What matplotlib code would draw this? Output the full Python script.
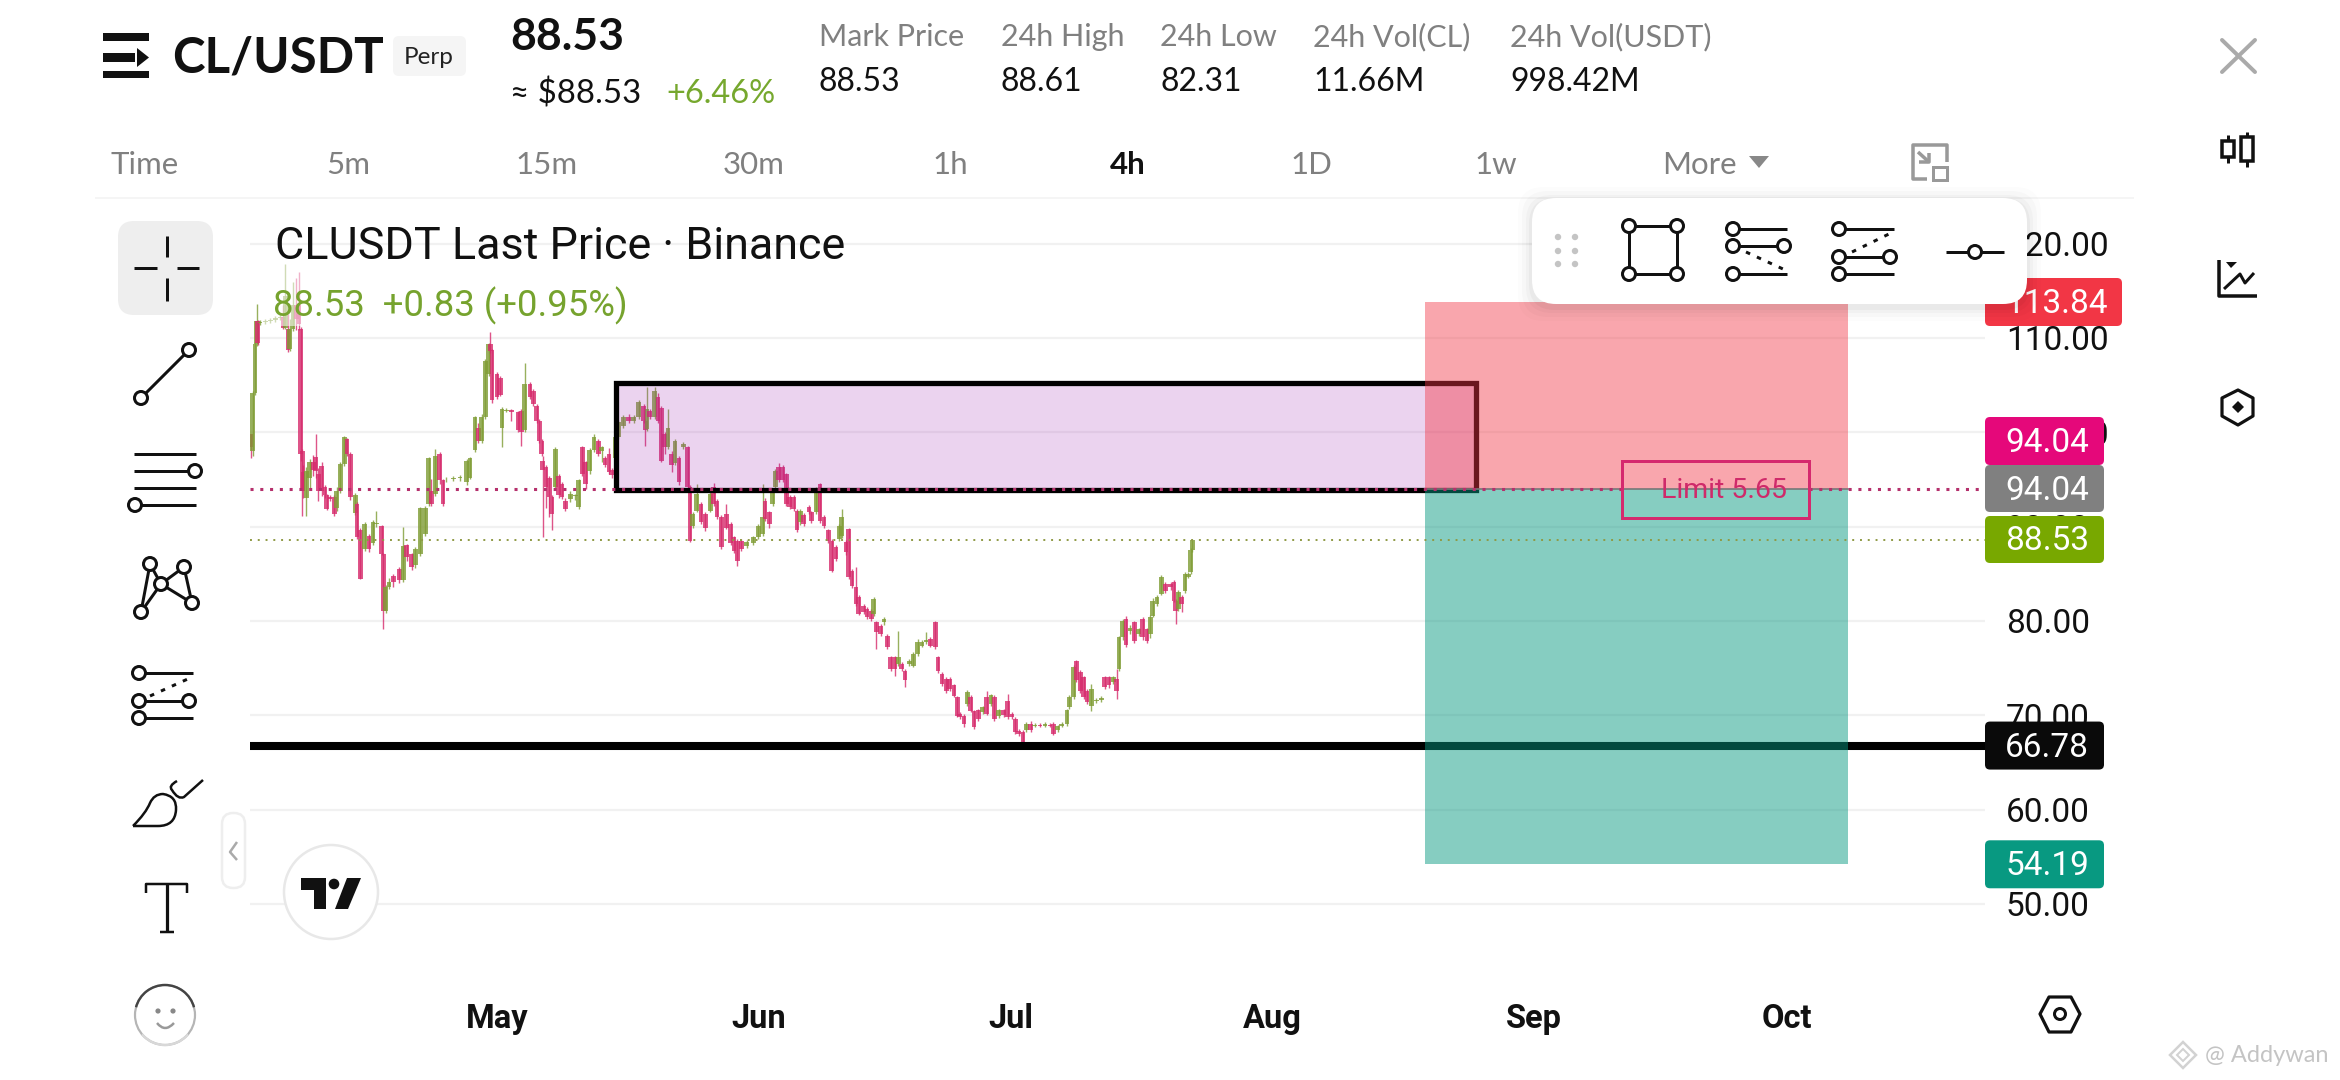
import matplotlib
matplotlib.use("Agg")
import matplotlib.pyplot as plt
from matplotlib.patches import FancyBboxPatch, Rectangle, Circle, Polygon, PathPatch, Arc
from matplotlib.path import Path

# ---------- data (days counted from 1 May) ----------
bar_days = [
 -29.2,-29.0,-28.7,-28.5,-28.4,-28.1,-27.5,-26.9,-26.3,-25.7,
 -25.4,-25.1,-24.8,-24.6,-24.2,-23.8,-23.5,-23.3,-23.1,-23.0,
 -22.6,-22.2,-21.8,-21.5,-21.2,-20.8,-20.4,-20.2,-19.8,-19.3,
 -19.0,-18.6,-18.1,-17.8,-17.4,-16.8,-16.6,-16.2,-15.7,-15.2,
 -14.7,-14.3,-13.7,-13.5,-13.2,-12.8,-12.3,-11.6,-11.1,-10.7,
 -10.1,-9.7,-9.1,-8.5,-8.1,-7.8,-7.3,-6.8,-6.4,-6.0,
 -5.2,-4.4,-3.6,-3.2,-2.6,-2.2,-1.8,-1.4,-1.0,-0.8,
 -0.6,0.0,0.4,0.6,1.1,1.7,2.5,2.9,3.3,3.9,
 4.3,4.7,5.0,5.3,5.4,5.8,6.2,6.5,6.9,7.3,
 7.7,8.1,8.7,9.3,9.7,10.1,10.5,11.0,11.5,12.0,
 12.4,12.8,13.3,13.6,14.0,14.4,15.0,15.6,16.2,16.8,
 17.4,17.6,17.8,18.1,18.7,19.1,19.5,19.9,20.3,20.7,
 21.1,21.6,22.1,22.6,22.9,23.2,23.7,24.2,24.7,25.3,
 25.7,26.1,26.6,27.2,27.7,28.1,28.5,29.0,29.6,30.4,
 31.0,31.5,31.8,32.3,32.7,33.0,33.4,33.9,34.3,34.7,
 35.2,35.6,36.0,36.4,37.0,37.3,37.9,38.3,38.8,39.3,
 39.7,40.2,40.6,40.9,41.4,41.7,42.1,42.6,42.9,43.5,
 43.9,44.4,44.7,45.0,45.5,45.9,46.3,46.7,47.2,47.6,
 48.0,48.4,48.9,49.4,49.9,50.4,50.9,51.4,52.0,52.3,
 52.8,53.3,53.7,54.2,54.6,54.9,55.4,55.8,56.2,56.6,
 57.1,57.6,58.1,58.6,59.0,59.5,60.1,60.6,61.1,61.5,
 61.9,62.4,62.8,63.3,63.8,64.4,65.0,65.6,66.0,66.5,
 67.0,67.6,67.9,68.4,68.7,69.2,69.6,70.0,70.5,71.1,
 71.7,72.1,72.6,73.1,73.5,73.8,74.2,74.6,75.1,75.6,
 76.1,76.6,77.1,77.5,77.8,78.3,78.8,79.3,79.9,80.3,
 80.5,80.8,81.2,81.6,82.0,82.3,82.5]
opens = [
 99.8,98.0,104.2,109.4,111.8,111.6,111.7,111.8,111.9,112.1,
 112.2,111.1,111.0,108.8,111.0,113.5,113.5,111.0,98.0,95.8,
 93.0,95.2,96.9,97.4,95.6,96.4,94.2,93.3,93.1,93.1,
 92.0,93.8,96.6,99.3,97.7,91.4,92.4,89.6,87.6,89.0,
 88.3,90.3,90.1,87.1,81.1,83.6,84.8,85.5,84.3,88.0,
 87.1,85.9,87.1,89.2,92.4,93.8,93.5,97.7,94.9,95.0,
 95.1,95.2,94.7,95.2,98.1,100.5,99.1,101.6,106.2,109.4,
 108.7,106.2,105.8,100.5,102.3,102.4,102.1,102.3,100.2,105.1,
 104.4,102.8,101.2,99.1,97.0,96.3,95.2,93.1,94.2,95.4,
 94.5,92.75,92.9,93.2,92.05,98.4,96.8,95.9,98.1,99.1,
 98.0,97.3,97.7,96.0,97.3,99.5,100.7,101.6,101.2,101.6,
 102.8,101.2,100.3,102.3,101.6,103.7,102.6,99.8,98.4,97.7,
 96.7,97.3,98.4,98.4,94.2,90.1,91.7,92.4,91.3,91.7,
 94.2,92.75,91.0,91.3,90.3,88.9,88.5,88.5,87.9,88.3,
 88.9,89.22,92.76,91.52,92.4,94.17,96.3,96.3,95.6,93.1,
 93.1,91.7,90.46,91.2,92.05,91.5,91.52,94.5,91.0,89.6,
 88.5,87.8,88.7,89.0,88.34,89.75,85.3,83.57,82.5,81.6,
 81.3,81.1,80.74,79.86,79.5,79.86,78.45,76.15,76.15,75.4,
 75.4,74.7,75.44,75.27,76.5,77.39,77.74,78.09,79.86,76.15,
 74.4,73.85,73.85,73.15,71.9,70.14,69.96,71.2,71.91,70.49,
 70.5,70.3,71.9,71.2,71.9,69.9,70.5,71.55,70.1,69.6,
 68.37,68.2,68.4,69.1,68.9,69.0,68.85,69.0,69.1,68.4,
 68.9,69.08,70.85,71.9,75.8,74.56,74.0,72.6,71.0,71.5,
 71.6,74.0,74.0,73.5,73.85,74.9,78.27,80.2,78.9,79.86,
 78.6,80.2,79.1,78.6,80.57,81.8,82.9,83.92,83.92,84.1,
 82.16,81.27,82.5,83.2,84.7,85.2,87.5]
closes = [
 98.4,104.2,109.4,111.8,109.5,111.7,111.8,111.9,112.1,112.2,
 111.1,114.5,108.7,111.0,113.5,112.0,111.5,97.7,93.8,93.8,
 95.9,96.9,96.0,95.9,93.8,93.8,93.3,91.9,92.9,91.3,
 93.8,96.6,99.5,97.7,93.1,93.4,88.9,84.45,90.3,87.6,
 90.5,90.35,87.1,81.1,83.6,84.1,84.1,84.3,87.9,86.75,
 85.7,87.6,92.0,92.0,97.3,92.4,97.5,94.9,92.4,95.1,
 95.2,95.3,97.0,97.3,101.6,99.1,101.6,107.6,109.4,108.6,
 103.4,103.7,104.0,102.5,102.4,102.2,100.2,100.0,105.1,103.7,
 103.0,101.2,99.1,97.7,96.0,94.2,93.1,91.3,98.2,93.3,
 93.1,91.9,93.5,93.3,94.9,95.6,94.5,98.1,99.5,97.7,
 98.4,96.5,95.8,95.5,99.5,101.1,101.6,101.2,101.6,103.2,
 101.2,100.2,102.5,101.6,104.4,101.2,97.0,98.4,100.5,96.5,
 99.1,94.7,98.8,94.2,88.5,91.3,93.5,90.5,89.9,93.5,
 92.4,91.0,87.8,89.9,88.3,87.45,86.4,87.6,88.4,88.9,
 90.1,91.0,90.82,90.29,93.8,95.94,94.9,94.9,92.4,92.05,
 91.88,89.6,91.7,90.3,91.5,90.64,94.0,90.64,90.1,88.5,
 85.34,86.6,90.1,91.0,87.28,84.63,83.75,81.8,80.74,80.9,
 80.4,80.2,82.33,78.8,78.6,80.2,77.2,74.9,74.9,76.15,
 74.9,73.7,75.8,76.5,77.74,77.74,78.0,77.39,77.2,74.74,
 73.3,72.6,72.8,72.08,69.96,69.79,69.08,72.44,70.49,68.73,
 69.6,70.85,70.14,72.1,69.6,70.5,70.0,69.8,69.8,68.2,
 68.0,67.2,69.1,68.4,69.0,68.85,69.1,68.9,68.05,68.9,
 69.1,70.5,71.9,75.1,73.7,72.6,71.9,71.4,72.8,71.6,
 71.8,73.0,73.15,74.0,72.6,78.27,80.0,77.4,79.3,77.9,
 79.1,78.27,77.92,80.39,82.16,82.5,84.63,83.2,83.57,82.16,
 81.1,83.04,81.8,85.0,85.0,87.5,88.53]
highs = [
 99.8,104.4,109.6,113.6,111.9,111.9,112.0,112.1,112.3,112.5,
 113.5,117.85,112.5,112.0,115.9,116.4,116.96,111.2,98.2,96.5,
 96.3,97.2,97.6,99.82,96.2,96.9,94.4,93.5,93.3,93.3,
 94.2,96.9,99.65,99.4,97.9,93.6,92.6,89.8,90.5,89.2,
 90.7,91.7,90.2,87.2,83.8,84.6,85.0,85.7,90.0,88.2,
 87.2,87.8,92.1,92.2,97.35,95.0,98.23,97.9,95.1,95.3,
 95.4,95.5,97.2,97.4,101.7,101.0,101.9,107.8,109.5,110.6,
 108.8,106.4,106.0,102.7,102.6,102.5,102.3,102.5,107.4,105.3,
 104.6,103.0,101.4,99.3,97.5,96.5,95.4,93.3,98.4,95.6,
 94.7,93.0,93.8,93.5,95.1,98.6,97.0,98.3,99.8,99.3,
 98.6,97.5,98.3,96.2,99.7,101.3,101.8,101.9,101.8,103.4,
 103.0,101.4,104.77,102.5,104.8,104.2,102.8,100.0,102.5,98.0,
 99.3,97.5,99.0,98.6,94.4,91.5,94.5,92.6,91.5,93.7,
 94.6,92.9,91.2,92.4,90.5,89.0,88.7,88.7,88.6,89.0,
 90.3,94.5,93.0,91.7,94.0,96.1,96.72,96.5,95.7,93.3,
 93.3,91.9,91.9,91.4,92.3,91.7,94.2,94.6,91.2,89.7,
 88.7,88.0,90.3,91.88,88.6,89.9,85.5,85.69,82.7,81.8,
 81.5,81.3,82.5,80.0,79.7,80.4,78.6,76.3,76.3,78.98,
 75.6,74.9,76.0,76.7,78.1,78.0,78.8,78.3,80.0,76.3,
 74.6,74.0,74.0,73.3,72.0,70.3,70.1,72.7,72.1,70.6,
 70.7,71.0,72.6,72.3,72.1,70.7,70.7,72.2,70.3,69.8,
 68.5,68.4,69.3,69.4,69.2,69.2,69.3,69.2,69.3,69.0,
 69.3,70.7,72.1,75.3,75.9,74.8,74.2,72.8,73.3,71.8,
 72.0,74.2,74.2,74.2,74.91,78.4,80.2,80.5,79.6,80.0,
 79.3,80.4,79.3,80.6,82.4,82.7,84.9,84.1,84.1,84.3,
 82.3,83.3,82.7,85.2,85.2,87.7,88.6]
lows = [
 97.3,97.5,104.0,109.2,109.3,111.4,111.5,111.6,111.7,111.9,
 111.0,111.0,108.48,108.6,110.7,110.8,110.8,97.0,91.17,93.0,
 91.17,94.0,95.4,95.2,92.7,93.2,93.0,91.8,92.7,91.1,
 91.7,93.6,96.4,97.5,92.8,91.2,88.7,84.45,87.4,87.3,
 88.1,90.0,87.0,79.15,80.8,83.4,83.6,84.0,84.1,86.3,
 85.4,85.6,86.9,89.0,92.2,92.2,93.2,94.5,92.2,94.7,
 94.8,94.8,94.4,95.0,97.9,98.9,98.9,101.4,106.0,108.4,
 103.1,103.5,103.8,98.4,102.1,101.2,100.0,98.6,100.0,103.5,
 102.8,101.0,98.9,97.5,88.9,92.0,91.0,89.6,93.9,93.0,
 92.9,91.7,92.6,92.8,91.9,95.4,94.0,95.6,97.9,97.5,
 96.9,96.3,95.6,95.2,97.0,99.3,100.5,101.0,101.0,101.4,
 101.0,98.6,100.1,101.4,101.4,101.0,96.8,97.7,98.2,95.76,
 96.5,94.4,98.2,94.0,88.34,89.9,91.5,90.3,89.5,91.5,
 92.2,90.8,87.6,89.7,88.1,87.2,85.8,87.4,87.7,88.1,
 88.7,89.0,90.6,89.9,92.2,94.0,94.7,94.7,92.2,91.9,
 91.7,89.4,90.2,90.1,91.3,90.4,91.3,90.4,89.8,88.3,
 85.2,86.4,88.5,88.8,87.0,84.4,83.5,81.6,80.6,80.7,
 80.2,80.0,80.5,77.03,78.4,79.6,77.0,74.7,74.2,75.2,
 74.7,72.97,75.2,75.1,76.3,77.2,77.5,77.2,77.0,74.5,
 73.1,72.4,72.6,71.9,69.8,69.6,68.7,71.0,70.3,68.5,
 69.4,70.1,70.0,71.0,69.4,69.7,69.8,69.6,69.6,68.0,
 67.8,67.1,68.2,68.2,68.7,68.7,68.7,68.7,67.9,68.2,
 68.7,68.9,70.7,71.7,73.5,72.4,71.7,71.2,70.4,71.3,
 71.4,72.8,72.9,73.3,71.7,74.7,78.0,77.2,78.6,77.7,
 78.4,78.0,77.7,78.2,80.4,81.6,82.7,83.0,83.3,82.0,
 79.68,81.0,80.9,83.0,84.5,85.0,87.3]

y_ticks = [50, 60, 70, 80, 90, 100, 110, 120]
month_days = [0, 31, 61, 92, 123, 153]
month_labels = ["May", "Jun", "Jul", "Aug", "Sep", "Oct"]
entry_price, target_price, stop_price = 94.04, 54.19, 113.84
last_price = 88.53
support_price = 66.78
zone_top, zone_bottom = 105.18, 93.9
zone_start, zone_end = 14.06, 116.1
position_start, position_end = 110.1, 160.3
limit_start, limit_end = 133.5, 155.6

ROBOTO = "Roboto"
LATO = "Lato"
GREEN = "#7f9c34"
PINK = "#d62a6c"

fig = plt.figure(figsize=(23.4, 10.8), dpi=100, facecolor="white")
L, R, T, B = 250, 1985, 200, 975
ax = fig.add_axes([L / 2340, (1080 - B) / 1080, (R - L) / 2340, (B - T) / 1080])
ax.set_facecolor("none")
ax.set_xlim((L - 497) / 8.43, (R - 497) / 8.43)
ax.set_ylim(110 - (B - 338) / 9.43, 110 - (T - 338) / 9.43)
for s in ax.spines.values():
    s.set_visible(False)
ax.set_yticks(y_ticks)
ax.set_yticklabels([f"{v:.2f}" for v in y_ticks], family=ROBOTO, fontsize=24, color="#111111",
                   ha="left", va="center_baseline")
ax.yaxis.tick_right()
ax.tick_params(axis="y", length=0, pad=15)
ax.set_xticks(month_days)
ax.set_xticklabels(month_labels, family=ROBOTO, fontsize=23.5, fontweight="bold", color="#111111")
ax.tick_params(axis="x", length=0, pad=20)
ax.grid(axis="y", color="#f1f1f1", lw=1.6, zorder=1)
ax.set_axisbelow(True)

# candles
for d, o, c, h, l in zip(bar_days, opens, closes, highs, lows):
    col = GREEN if c >= o else PINK
    ax.vlines(d, l, h, color=col, lw=1.0, alpha=0.8, zorder=3)
    ax.bar(d, abs(c - o), bottom=min(o, c), width=0.56, color=col, alpha=0.8, lw=0, zorder=3)

# zone
ax.add_patch(Rectangle((zone_start, zone_bottom), zone_end - zone_start, zone_top - zone_bottom,
                       facecolor="#9c27b0", alpha=0.2, lw=0, zorder=4))
ax.add_patch(Rectangle((zone_start, zone_bottom), zone_end - zone_start, zone_top - zone_bottom,
                       fill=False, edgecolor="black", lw=3.8, zorder=4.1, joinstyle="miter"))
ax.axhline(support_price, color="black", lw=5.8, zorder=4.2)
# position
ax.add_patch(Rectangle((position_start, entry_price), position_end - position_start, stop_price - entry_price,
                       facecolor="#f23645", alpha=0.44, lw=0, zorder=5))
ax.add_patch(Rectangle((position_start, target_price), position_end - position_start, entry_price - target_price,
                       facecolor="#089981", alpha=0.49, lw=0, zorder=5))
ax.plot([position_start, position_end], [entry_price, entry_price], color="#777777", lw=1.2, zorder=5.1)
# price lines (the entry line stops at the limit tag)
x_lo, x_hi = ax.get_xlim()
ax.plot([x_lo, limit_start], [entry_price, entry_price], color="#b5306c", lw=2.2, ls=(0, (1, 2.2)), zorder=6)
ax.plot([limit_end, x_hi], [entry_price, entry_price], color="#b5306c", lw=2.2, ls=(0, (1, 2.2)), zorder=6)
ax.axhline(last_price, color="#8f9a45", lw=1.4, ls=(0, (1, 3)), zorder=6)

# ---------- interface layer, in screen pixels ----------
ui = fig.add_axes([0, 0, 1, 1], zorder=10)
ui.set_xlim(0, 2340)
ui.set_ylim(1080, 0)
ui.axis("off")
ui.patch.set_alpha(0)


def px(v):
    return v * 0.72


def text(x, y, s, size, color="#111111", family=ROBOTO, weight="normal", ha="left", va="center", z=5):
    return ui.text(x, y, s, fontsize=size, color=color, family=family, fontweight=weight, ha=ha, va=va, zorder=z)


def rbox(x0, y0, x1, y1, r, fc, ec="none", lw=0, alpha=None, z=2):
    p = FancyBboxPatch((x0, y0), x1 - x0, y1 - y0, boxstyle=f"round,pad=0,rounding_size={r}",
                       facecolor=fc, edgecolor=ec, lw=lw, alpha=alpha, zorder=z)
    ui.add_patch(p)
    return p


def line(xs, ys, w=3, color="#111111", z=6, ls="-", cap="butt"):
    ui.plot(xs, ys, color=color, lw=px(w), ls=ls, zorder=z, solid_capstyle=cap, dash_capstyle=cap)


def node(x, y, r=6.5, w=3, color="#111111", z=7):
    ui.add_patch(Circle((x, y), r, facecolor="white", edgecolor=color, lw=px(w), zorder=z))


def price_y(p):
    return 338 + (110 - p) * 9.43


# legend wash over the candles
ui.add_patch(Rectangle((262, 262), 368, 64, facecolor="white", alpha=0.55, lw=0, zorder=1))
text(275, 247, "CLUSDT Last Price · Binance", 32.3)
text(273, 306, "88.53  +0.83 (+0.95%)", 26.3, color="#76a32e")

# header
for y0, y1, x1 in [(33, 41, 149), (53, 62, 135), (71, 78, 149)]:
    ui.add_patch(Rectangle((103, y0), x1 - 103, y1 - y0, fc="#111111", lw=0))
ui.add_patch(Polygon([(137, 48), (149, 57.5), (137, 67)], fc="#111111", lw=0))
text(172, 58, "CL/USDT", 35.5, family=LATO, weight="bold")
rbox(393, 36, 466, 76, 6, "#f5f5f5")
text(429, 58, "Perp", 17.5, family=LATO, ha="center", color="#222222")
text(510, 37, "88.53", 32, family=LATO, weight="bold")
text(510, 94, "≈ $88.53", 23.8, family=LATO, color="#111111")
text(666, 94, "+6.46%", 23.5, family=LATO, color="#76a82e")
stats = [(819, "Mark Price", "88.53"), (1001, "24h High", "88.61"), (1160, "24h Low", "82.31"),
         (1313, "24h Vol(CL)", "11.66M"), (1510, "24h Vol(USDT)", "998.42M")]
for x, head, val in stats:
    text(x, 37, head, 22, family=LATO, color="#808080")
    text(x, 82, val, 23, family=LATO, color="#111111")

# interval row
intervals = [(145, "Time"), (348, "5m"), (547, "15m"), (754, "30m"), (950, "1h"),
             (1128, "4h"), (1311, "1D"), (1496, "1w"), (1699, "More")]
for x, s in intervals:
    text(x, 165, s, 22.5, family=LATO, ha="center", color="#111111" if s == "4h" else "#808080",
         weight="bold" if s == "4h" else "normal")
ui.add_patch(Polygon([(1749, 156), (1769, 156), (1759, 168)], fc="#888888", lw=0))
line([1927, 1913, 1913, 1947, 1947], [179, 179, 145, 145, 162], 3.5, "#999999")
ui.add_patch(Rectangle((1933, 167), 14, 13, fc="none", ec="#999999", lw=px(3)))
line([1918, 1929], [152, 162], 3.5, "#999999")
line([1919, 1929, 1929], [162, 162, 153], 3.5, "#999999")
line([95, 2134], [198, 198], 1.5, "#f3f3f3", z=1)

# right column
line([2222, 2255], [40, 72], 4, "#aaaaaa", cap="round")
line([2222, 2255], [72, 40], 4, "#aaaaaa", cap="round")
for cx, y0, y1, w0, w1 in [(2228, 141, 157, 135, 163), (2247, 137, 161, 132, 167)]:
    ui.add_patch(Rectangle((cx - 6, y0), 12, y1 - y0, fc="white", ec="#111111", lw=px(3.5), zorder=6))
    line([cx, cx], [w0, y0], 3)
    line([cx, cx], [y1, w1], 3)
line([2219, 2219, 2257], [260, 296, 296], 3.5)
line([2224, 2240, 2245, 2254], [289, 274, 283, 273], 3)
ui.add_patch(Polygon([(2226, 262), (2237, 262), (2231, 268)], fc="#111111", lw=0))
hexa = [(2238, 390), (2253, 398), (2253, 416), (2238, 425), (2222, 416), (2222, 398)]
ui.add_patch(Polygon(hexa, fc="none", ec="#111111", lw=px(3.2), joinstyle="round"))
ui.add_patch(Polygon([(2238, 401), (2244, 407), (2238, 413), (2232, 407)], fc="#111111", lw=0))
hexb = [(2049, 997), (2071, 997), (2080, 1014), (2071, 1032), (2049, 1032), (2040, 1014)]
ui.add_patch(Polygon(hexb, fc="none", ec="#111111", lw=px(3.2), joinstyle="round"))
ui.add_patch(Circle((2060, 1014), 5.5, fc="none", ec="#111111", lw=px(3)))

# left toolbar
rbox(118, 221, 213, 315, 16, "#eeeeee")
line([134, 157], [268, 268], 3)
line([177, 199], [268, 268], 3)
line([167, 167], [236, 257], 3)
line([167, 167], [278, 301], 3)
line([141, 189], [398, 350], 3)
node(141, 398)
node(189, 350)
for y in (454, 471, 488, 505):
    line([134, 196], [y, y], 3)
node(195, 471)
node(135, 505)
pts = {"a": (141, 612), "b": (150, 564), "c": (161, 584), "d": (184, 567), "e": (192, 603)}
for u, v in ["ab", "ac", "bc", "cd", "ce", "de"]:
    line([pts[u][0], pts[v][0]], [pts[u][1], pts[v][1]], 3)
for p in pts.values():
    node(*p)
for y in (673, 701, 718):
    line([139, 193], [y, y], 3)
line([150, 190], [696, 678], 3, ls=(0, (1.5, 2.5)))
node(139, 673)
node(139, 701)
node(189, 701)
node(139, 718)
blob = Path([(133, 826), (146, 813), (150, 803), (154, 794), (163, 794), (177, 796), (176, 810), (175, 826), (158, 826), (133, 826)],
            [Path.MOVETO, Path.CURVE3, Path.CURVE3, Path.CURVE3, Path.CURVE3, Path.CURVE3, Path.CURVE3, Path.CURVE3, Path.CURVE3, Path.LINETO])
ui.add_patch(PathPatch(blob, fc="none", ec="#111111", lw=px(2.5), zorder=6))
hook = Path([(177, 781), (168, 786), (172, 790), (178, 800), (184, 797), (203, 780)],
            [Path.MOVETO, Path.CURVE3, Path.CURVE3, Path.CURVE3, Path.CURVE3, Path.LINETO])
ui.add_patch(PathPatch(hook, fc="none", ec="#111111", lw=px(2.5), zorder=6))
line([146, 146, 187, 187], [893, 884, 884, 893], 2.5)
line([167, 167], [884, 932], 3.2)
line([160, 174], [932, 932], 2.5)
ui.add_patch(Circle((165, 1015), 30, fc="white", ec="#b5b5b5", lw=px(2.2), zorder=6))
ui.add_patch(Arc((165, 1015), 60, 60, theta1=195, theta2=345, ec="#444444", lw=px(2.4), zorder=6.5))
ui.add_patch(Arc((165, 1015), 60, 60, theta1=40, theta2=140, ec="#d8d8d8", lw=px(2.4), zorder=6.5))
ui.add_patch(Circle((158, 1011), 2.6, fc="#888888", lw=0, zorder=7))
ui.add_patch(Circle((173, 1011), 2.6, fc="#888888", lw=0, zorder=7))
smile = Path([(157, 1023), (165, 1033), (174, 1023)], [Path.MOVETO, Path.CURVE3, Path.CURVE3])
ui.add_patch(PathPatch(smile, fc="none", ec="#999999", lw=px(2.5), zorder=7))
rbox(222, 813, 245, 888, 11, "white", "#eeeeee", px(2.5))
line([237, 230, 237], [842, 852, 860], 2.5, "#aaaaaa")

# TradingView badge
ui.add_patch(Circle((331, 892), 47, fc="white", ec="#e8e8e8", lw=px(2.5), zorder=3))
ui.add_patch(Polygon([(301, 878), (326, 878), (326, 909), (314, 909), (314, 890), (301, 890)], fc="#111111", lw=0, zorder=4))
ui.add_patch(Circle((334, 884), 5.3, fc="#111111", lw=0, zorder=4))
ui.add_patch(Polygon([(347, 878), (361, 878), (348, 909), (335, 909)], fc="#111111", lw=0, zorder=4))

# price badges
badges = [(1985, 2122, 278, 326, "#f23645", f"{stop_price:.2f}", 2056),
          (1985, 2104, 417, 465, "#e5087a", f"{entry_price:.2f}", 2047),
          (1985, 2104, 465, 512, "#808080", f"{entry_price:.2f}", 2047),
          (1985, 2104, 516, 563, "#78a800", f"{last_price:.2f}", 2047),
          (1985, 2104, price_y(support_price) - 24, price_y(support_price) + 24, "#0a0a0a", f"{support_price:.2f}", 2047),
          (1985, 2104, price_y(target_price) - 24, price_y(target_price) + 24, "#089981", f"{target_price:.2f}", 2047)]
for x0, x1, y0, y1, col, s, tx in badges:
    rbox(x0, y0, x1, y1, 5, col, z=2)
    text(tx, (y0 + y1) / 2 + 2, s, 24, color="white", ha="center", z=3)

# limit tag
ui.add_patch(Rectangle((1622, 461), 187, 57, fc="none", ec="#d5296e", lw=px(3), zorder=3))
text(1724, 490, "Limit 5.65", 20.5, color="#cf2a6a", ha="center", z=3)

# floating drawing panel
for grow, a in [(14, 0.012), (10, 0.018), (6, 0.025), (3, 0.03)]:
    rbox(1532 - grow, 198 - grow + 3, 2027 + grow, 304 + grow + 3, 26, "black", alpha=a, z=3.5)
rbox(1532, 198, 2027, 304, 24, "white", z=4)
for x in (1558, 1575):
    for y in (237, 251, 264):
        ui.add_patch(Circle((x, y), 3.2, fc="#c4c4c4", lw=0, zorder=6))
ui.add_patch(Rectangle((1629, 226), 48, 48, fc="none", ec="#111111", lw=px(3), zorder=6))
for cx in (1629, 1677):
    for cy in (226, 274):
        node(cx, cy)
for y in (229, 274):
    line([1733, 1787], [y, y], 3)
line([1733, 1784], [246, 246], 3)
line([1746, 1783], [252, 269], 3, ls=(0, (1.5, 2.5)))
for p in [(1733, 229), (1733, 246), (1784, 246), (1733, 274)]:
    node(*p)
for y in (229, 274):
    line([1839, 1894], [y, y], 3)
line([1839, 1890], [257, 257], 3)
line([1852, 1891], [252, 233], 3, ls=(0, (1.5, 2.5)))
for p in [(1839, 229), (1839, 257), (1890, 257), (1839, 274)]:
    node(*p)
line([1946, 2004], [252, 252], 3)
node(1975, 252)

# watermark
ui.add_patch(Polygon([(2183, 1042), (2196, 1055), (2183, 1068), (2170, 1055)], fc="none", ec="#d2d2d2", lw=px(2.5)))
ui.add_patch(Polygon([(2183, 1049), (2189, 1055), (2183, 1061), (2177, 1055)], fc="none", ec="#d2d2d2", lw=px(2)))
text(2205, 1055, "@ Addywan", 17, family=LATO, color="#c4c4c4")

fig.savefig("out.png", dpi=100, facecolor="white")
